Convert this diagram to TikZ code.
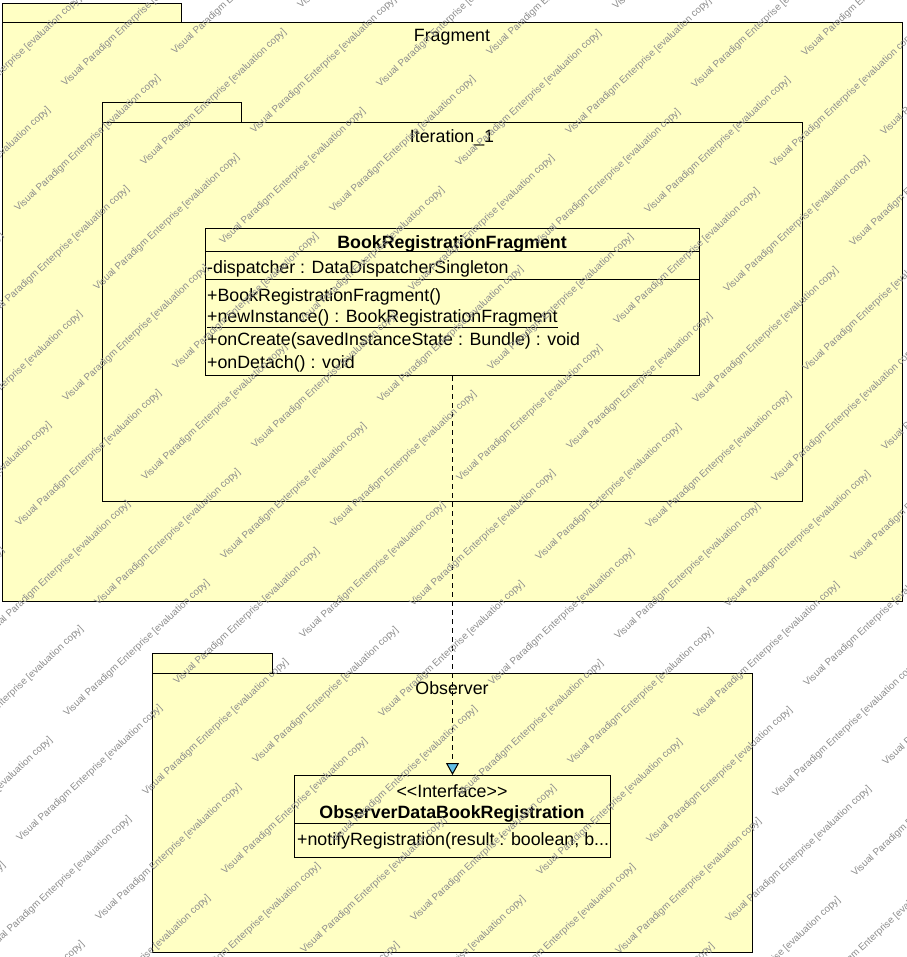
\documentclass[tikz,border=0pt]{standalone}
\usepackage{fontspec}
\setmainfont{Liberation Sans}
\usetikzlibrary{arrows.meta}
\definecolor{pkgfill}{RGB}{255,255,196}
\definecolor{arrowblue}{RGB}{96,190,230}
\definecolor{wmgray}{RGB}{140,140,140}
\begin{document}
\begin{tikzpicture}[x=1pt,y=-1pt,
  box/.style={draw=black, line width=1pt, fill=pkgfill, inner sep=0pt, anchor=north west},
  lbl/.style={inner sep=0pt, yshift=-1.5pt, font=\fontsize{17.8}{20}\selectfont},
  mem/.style={lbl, anchor=west},
  sep/.style={draw=black, line width=1pt},
  realize/.style={line width=1pt, dash pattern=on 5pt off 4pt, -{Triangle[length=12pt,width=13pt,fill=arrowblue,line width=1pt]}},
  wm/.style={inner sep=0pt, anchor=base west, rotate=43, text=wmgray, font=\fontsize{9.8}{11}\selectfont}]
\useasboundingbox (0,0) rectangle (906,957);
% Fragment package
\node[box, minimum width=179pt, minimum height=19pt] (fragtab) at (2,3) {};
\node[box, minimum width=900pt, minimum height=579pt] (frag) at (2,22) {};
\node[lbl] (fraglbl) at (452,36) {Fragment};
% Iteration_1 package
\node[box, minimum width=139pt, minimum height=20pt] (itertab) at (102,102) {};
\node[box, minimum width=700pt, minimum height=379pt] (iter) at (102,122) {};
\node[lbl] (iterlbl) at (452,136) {Iteration\_1};
% Observer package
\node[box, minimum width=120pt, minimum height=20pt] (obstab) at (152,653) {};
\node[box, minimum width=600pt, minimum height=279pt] (obs) at (152,673) {};
\node[lbl] (obslbl) at (452,687) {Observer};
% Class BookRegistrationFragment
\node[box, minimum width=494pt, minimum height=147pt] (cls) at (205,228) {};
\coordinate (c1l) at (205,252); \coordinate (c1r) at (699,252);
\coordinate (c2l) at (205,280); \coordinate (c2r) at (699,280);
\draw[sep] (c1l) -- (c1r);
\draw[sep] (c2l) -- (c2r);
\node[lbl, font=\fontsize{17.8}{20}\selectfont\bfseries] (clsname) at (452,242) {BookRegistrationFragment};
\node[mem] (attr1) at (207,267) {-dispatcher : DataDispatcherSingleton};
\node[mem] (op1) at (207,295) {+BookRegistrationFragment()};
\node[mem] (op2) at (207,317) {\underline{+newInstance() : BookRegistrationFragment}};
\node[mem] (op3) at (207,339) {+onCreate(savedInstanceState : Bundle) : void};
\node[mem] (op4) at (207,362) {+onDetach() : void};
% Interface ObserverDataBookRegistration
\node[box, minimum width=316pt, minimum height=82pt] (ifc) at (294,775) {};
\coordinate (i1l) at (294,823); \coordinate (i1r) at (610,823);
\draw[sep] (i1l) -- (i1r);
\node[lbl] (ifcstereo) at (452,790) {<\kern0pt<Interface>\kern0pt>};
\node[lbl, font=\fontsize{17.8}{20}\selectfont\bfseries] (ifcname) at (452,812) {ObserverDataBookRegistration};
\node[mem] (ifcop1) at (297,839) {+notifyRegistration(result : boolean, b...};
% Realization
\draw[realize] (cls.south) -- (ifc.north);
% Watermark
\begin{scope}
\clip (0,0) rectangle (906,957);
\foreach \i in {-5,...,5}{
  \foreach \j in {-6,...,16}{
    \pgfmathsetmacro\px{65+236*\i+79*\j}
    \pgfmathsetmacro\py{87-78*\i+79*\j}
    \node[wm] (wma\i\j) at (\px,\py) {Visual Paradigm Enterprise [evaluation copy]};
    \node[wm] (wmb\i\j) at (\px+110,\py-32) {Visual Paradigm Enterprise [evaluation copy]};
  }}
\end{scope}
\end{tikzpicture}
\end{document}
